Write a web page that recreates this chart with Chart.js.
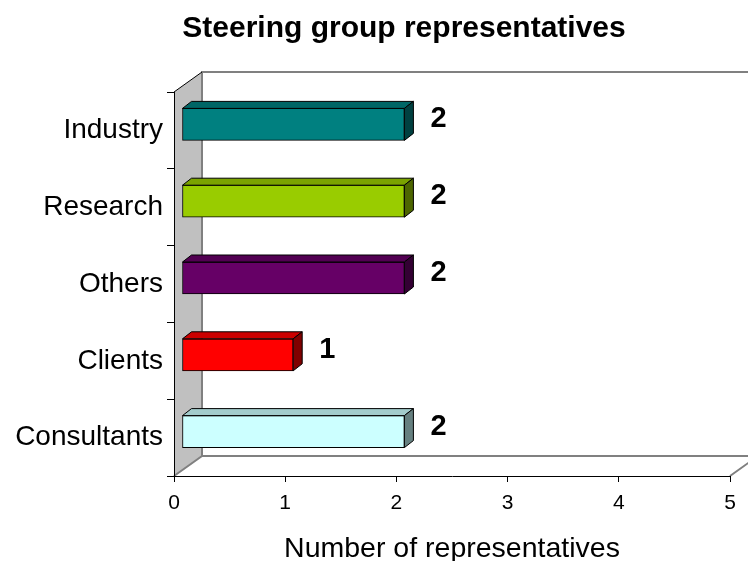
<!DOCTYPE html>
<html>
<head>
<meta charset="utf-8">
<title>Steering group representatives</title>
<script src="https://cdn.jsdelivr.net/npm/chart.js@4.4.1/dist/chart.umd.min.js"></script>
<style>
  body { margin: 0; background: #fff; }
  #wrap { width: 748px; height: 561px; }
</style>
</head>
<body>
<div id="wrap"><canvas id="groupChart"></canvas></div>
<script>
const chartTitle = 'Steering group representatives';
const categories = ['Industry', 'Research', 'Others', 'Clients', 'Consultants'];
const representatives = [2, 2, 2, 1, 2];
const axisTicks = [0, 1, 2, 3, 4, 5];

const frontColors = ['#008080', '#99cc00', '#660066', '#ff0000', '#ccffff'];
const topColors = ['#006666', '#7aa300', '#520052', '#cc0000', '#a3cccc'];
const sideColors = ['#004040', '#4d6600', '#330033', '#800000', '#668080'];

document.addEventListener('DOMContentLoaded', function () {
  const canvas = document.getElementById('groupChart');
  const fontFamily = '"Liberation Sans", Arial, sans-serif';

  // wall depth and bar depth (pixels)
  const wallDx = 28, wallDy = 20;
  const barDx = 8, barDy = -6;
  const depthX = 9, depthY = 7;

  function drawWalls(chart) {
    const ctx = chart.ctx;
    const a = chart.chartArea;
    ctx.save();
    // back wall
    ctx.fillStyle = '#ffffff';
    ctx.fillRect(a.left + wallDx, a.top - wallDy, a.width, a.height);
    ctx.strokeStyle = '#808080';
    ctx.lineWidth = 2;
    ctx.beginPath();
    ctx.moveTo(a.left + wallDx, a.bottom - wallDy);
    ctx.lineTo(a.left + wallDx, a.top - wallDy);
    ctx.lineTo(a.right + wallDx, a.top - wallDy);
    ctx.stroke();
    // floor
    ctx.beginPath();
    ctx.moveTo(a.left + wallDx, a.bottom - wallDy);
    ctx.lineTo(a.right + wallDx, a.bottom - wallDy);
    ctx.lineTo(a.right, a.bottom);
    ctx.stroke();
    // left wall
    ctx.fillStyle = '#c0c0c0';
    ctx.beginPath();
    ctx.moveTo(a.left, a.top);
    ctx.lineTo(a.left + wallDx, a.top - wallDy);
    ctx.lineTo(a.left + wallDx, a.bottom - wallDy);
    ctx.lineTo(a.left, a.bottom);
    ctx.closePath();
    ctx.fill();
    ctx.beginPath();
    ctx.moveTo(a.left + wallDx, a.top - wallDy);
    ctx.lineTo(a.left + wallDx, a.bottom - wallDy);
    ctx.lineTo(a.left, a.bottom);
    ctx.stroke();
    ctx.strokeStyle = '#000000';
    ctx.lineWidth = 1;
    ctx.beginPath();
    ctx.moveTo(a.left, a.top);
    ctx.lineTo(a.left + wallDx, a.top - wallDy);
    ctx.stroke();
    ctx.restore();
  }

  function drawTitle(chart) {
    const ctx = chart.ctx;
    ctx.save();
    ctx.fillStyle = '#000000';
    ctx.font = 'bold 30px ' + fontFamily;
    ctx.textAlign = 'center';
    ctx.textBaseline = 'middle';
    ctx.fillText(chartTitle, 404, 29);
    ctx.restore();
  }

  function drawFaces(chart) {
    const ctx = chart.ctx;
    const meta = chart.getDatasetMeta(0);
    meta.data.forEach((bar, i) => {
      const p = bar.getProps(['x', 'y', 'base', 'height'], true);
      const top = p.y - p.height / 2;
      const bottom = p.y + p.height / 2;
      ctx.lineWidth = 1;
      ctx.strokeStyle = '#000000';
      // top face
      ctx.fillStyle = topColors[i];
      ctx.beginPath();
      ctx.moveTo(p.base, top);
      ctx.lineTo(p.base + depthX, top - depthY);
      ctx.lineTo(p.x + depthX, top - depthY);
      ctx.lineTo(p.x, top);
      ctx.closePath();
      ctx.fill();
      ctx.stroke();
      // side face
      ctx.fillStyle = sideColors[i];
      ctx.beginPath();
      ctx.moveTo(p.x, top);
      ctx.lineTo(p.x + depthX, top - depthY);
      ctx.lineTo(p.x + depthX, bottom - depthY);
      ctx.lineTo(p.x, bottom);
      ctx.closePath();
      ctx.fill();
      ctx.stroke();
      // value label
      ctx.fillStyle = '#000000';
      ctx.font = 'bold 29px ' + fontFamily;
      ctx.textAlign = 'left';
      ctx.textBaseline = 'middle';
      ctx.fillText(String(representatives[i]), p.x + depthX + 17, p.y - 5);
    });
  }

  const boxPlugin = {
    id: 'box3d',
    beforeDraw(chart) {
      drawWalls(chart);
      drawTitle(chart);
    },
    beforeDatasetsDraw(chart) {
      chart.ctx.save();
      chart.ctx.translate(barDx, barDy);
    },
    afterDatasetsDraw(chart) {
      drawFaces(chart);
      chart.ctx.restore();
    }
  };

  new Chart(canvas, {
    type: 'bar',
    data: {
      labels: categories,
      datasets: [
        {
          label: 'Number of representatives',
          data: representatives,
          backgroundColor: frontColors,
          borderColor: '#000000',
          borderWidth: 1,
          borderSkipped: false,
          barThickness: 32,
        },
      ],
    },
    options: {
      indexAxis: 'y',
      responsive: true,
      maintainAspectRatio: false,
      animation: false,
      layout: { padding: { left: 0, right: 18, top: 92, bottom: 0 } },
      plugins: {
        legend: { display: false },
        tooltip: { enabled: false },
        title: { display: false },
      },
      scales: {
        x: {
          min: axisTicks[0],
          max: axisTicks[axisTicks.length - 1],
          afterBuildTicks: (scale) => {
            scale.ticks = axisTicks.map((v) => ({ value: v }));
          },
          afterFit: (scale) => {
            scale.height = 85;
          },
          grid: { drawOnChartArea: false, tickLength: 6, color: '#000000' },
          border: { color: '#000000' },
          ticks: {
            color: '#000000',
            padding: 9,
            font: { family: fontFamily, size: 21 },
          },
          title: {
            display: true,
            text: 'Number of representatives',
            color: '#000000',
            font: { family: fontFamily, size: 28.5, lineHeight: 0.8 },
            padding: { top: 0, bottom: 0 },
          },
        },
        y: {
          afterFit: (scale) => {
            scale.width = 174;
          },
          grid: { offset: true, drawOnChartArea: false, tickLength: 7, color: '#000000' },
          border: { color: '#000000' },
          ticks: {
            color: '#000000',
            padding: 4,
            font: { family: fontFamily, size: 28 },
          },
        },
      },
    },
    plugins: [boxPlugin],
  });
});
</script>
</body>
</html>
